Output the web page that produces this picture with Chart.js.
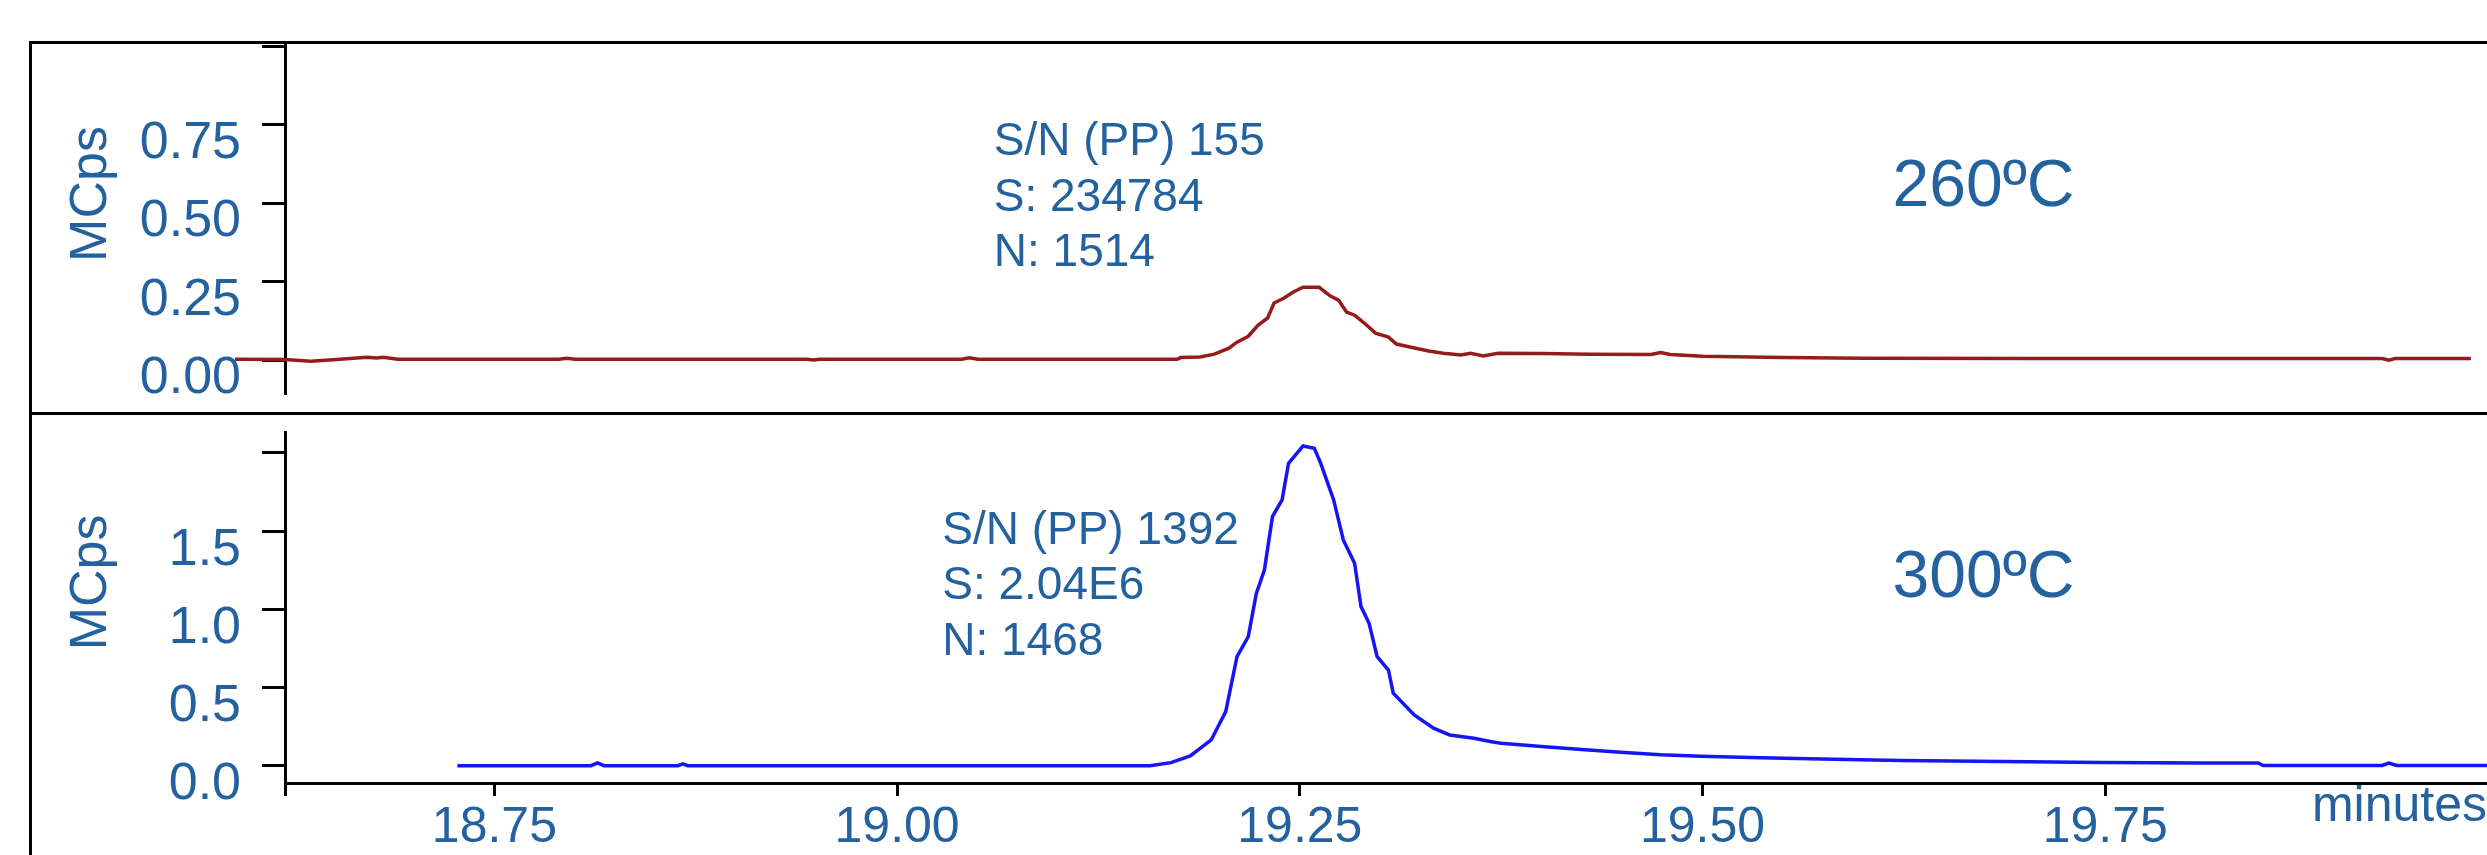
<!DOCTYPE html>
<html>
<head>
<meta charset="utf-8">
<title>Chromatogram 260ºC / 300ºC</title>
<script src="https://cdn.jsdelivr.net/npm/chart.js@4.4.1/dist/chart.umd.min.js"></script>
<style>
  html, body { margin: 0; padding: 0; background: #fff; }
  #page { position: relative; width: 2487px; height: 855px; overflow: hidden; background: #fff; }
  canvas { position: absolute; left: 0; }
  #top { top: 0; }
  #bottom { top: 413px; }
  .rule { position: absolute; background: #000; }
</style>
</head>
<body>
<div id="page">
  <canvas id="top" width="2487" height="413"></canvas>
  <canvas id="bottom" width="2487" height="442"></canvas>
  <div class="rule" style="left:29px;top:41px;width:2458px;height:3px"></div>
  <div class="rule" style="left:29px;top:41px;width:3px;height:814px"></div>
  <div class="rule" style="left:29px;top:412px;width:2458px;height:3px"></div>
</div>
<script>
const textBlue = '#24629f';
const fontFamily = "'Liberation Sans', Arial, Helvetica, sans-serif";

// retention time axis, minutes
const xMin = 18.62;
const xMax = 19.987;
const timeTicks = [18.75, 19.00, 19.25, 19.50, 19.75];

// 260ºC run (MCps)
const time260 = [
    18.589, 18.620, 18.636, 18.652, 18.671, 18.677, 18.681, 18.690, 18.790, 18.795,
    18.800, 18.944, 18.948, 18.952, 19.040, 19.045, 19.050, 19.174, 19.176, 19.188,
    19.197, 19.206, 19.211, 19.218, 19.224, 19.230, 19.234, 19.240, 19.246, 19.252,
    19.262, 19.269, 19.274, 19.279, 19.284, 19.290, 19.297, 19.305, 19.310, 19.319,
    19.330, 19.339, 19.350, 19.356, 19.364, 19.373, 19.400, 19.430, 19.468, 19.474,
    19.480, 19.500, 19.550, 19.600, 19.700, 19.800, 19.922, 19.926, 19.930, 19.977
];
const signal260 = [
    0.003, 0.002, -0.004, 0.002, 0.009, 0.007, 0.009, 0.003, 0.003, 0.006,
    0.003, 0.003, 0.000, 0.003, 0.003, 0.007, 0.003, 0.003, 0.008, 0.010,
    0.019, 0.038, 0.057, 0.076, 0.111, 0.134, 0.182, 0.197, 0.217, 0.232,
    0.232, 0.204, 0.191, 0.153, 0.143, 0.118, 0.086, 0.073, 0.051, 0.041,
    0.029, 0.022, 0.016, 0.022, 0.013, 0.022, 0.021, 0.019, 0.018, 0.024,
    0.018, 0.012, 0.008, 0.006, 0.005, 0.005, 0.005, 0.000, 0.005, 0.005
];
const ticks260 = [0, 0.25, 0.5, 0.75, 1.0];
const tickLabels260 = ['0.00', '0.25', '0.50', '0.75', ''];
const notes260 = ['S/N (PP) 155', 'S: 234784', 'N: 1514'];

// 300ºC run (MCps)
const time300 = [
    18.727, 18.810, 18.814, 18.818, 18.864, 18.867, 18.870, 19.157, 19.170, 19.182,
    19.195, 19.204, 19.211, 19.218, 19.223, 19.228, 19.233, 19.239, 19.243, 19.252,
    19.259, 19.263, 19.271, 19.277, 19.284, 19.288, 19.293, 19.298, 19.305, 19.308,
    19.321, 19.333, 19.343, 19.358, 19.369, 19.375, 19.400, 19.425, 19.449, 19.474,
    19.499, 19.536, 19.574, 19.623, 19.686, 19.748, 19.810, 19.845, 19.848, 19.922,
    19.926, 19.931, 19.987
];
const signal300 = [
    0.002, 0.002, 0.020, 0.002, 0.002, 0.013, 0.002, 0.002, 0.021, 0.064,
    0.166, 0.347, 0.698, 0.826, 1.103, 1.252, 1.593, 1.700, 1.934, 2.045,
    2.030, 1.934, 1.700, 1.444, 1.295, 1.018, 0.912, 0.698, 0.613, 0.465,
    0.326, 0.241, 0.198, 0.177, 0.155, 0.145, 0.125, 0.105, 0.088, 0.072,
    0.062, 0.052, 0.045, 0.035, 0.028, 0.022, 0.019, 0.019, 0.003, 0.003,
    0.018, 0.003, 0.003
];
const ticks300 = [0, 0.5, 1.0, 1.5, 2.0];
const tickLabels300 = ['0.0', '0.5', '1.0', '1.5', ''];
const notes300 = ['S/N (PP) 1392', 'S: 2.04E6', 'N: 1468'];

Chart.defaults.font.family = fontFamily;
Chart.defaults.color = textBlue;

function toPoints(times, values) {
    return times.map(function (t, i) {
        return { x: t, y: values[i] };
    });
}

// peak notes, oven temperature and the rotated unit label
function notesPlugin(cfg) {
    return {
        id: 'notes',
        afterDatasetsDraw: function (chart) {
            const ctx = chart.ctx;
            const xs = chart.scales.x;
            const ys = chart.scales.y;
            ctx.save();
            ctx.fillStyle = textBlue;
            ctx.textBaseline = 'alphabetic';
            ctx.textAlign = 'left';

            ctx.font = '46px ' + fontFamily;
            const nx = xs.getPixelForValue(cfg.noteAt[0]);
            const ny = ys.getPixelForValue(cfg.noteAt[1]);
            for (let i = 0; i < cfg.notes.length; i++) {
                ctx.fillText(cfg.notes[i], nx, ny + i * 55.5);
            }

            ctx.font = '66px ' + fontFamily;
            ctx.fillText(cfg.temp, xs.getPixelForValue(cfg.tempAt[0]), ys.getPixelForValue(cfg.tempAt[1]));

            ctx.font = '52px ' + fontFamily;
            ctx.translate(106, ys.getPixelForValue(cfg.unitAt));
            ctx.rotate(-Math.PI / 2);
            ctx.textAlign = 'center';
            ctx.fillText('MCps', 0, 0);
            ctx.restore();
        }
    };
}

function makeChart(canvasId, cfg) {
    const xScale = {
        type: 'linear',
        bounds: 'data',
        display: cfg.showTime,
        afterDataLimits: function (scale) {
            scale.min = xMin;
            scale.max = xMax;
        },
        afterBuildTicks: function (scale) {
            scale.min = xMin;
            scale.max = xMax;
            scale.ticks = [xMin].concat(timeTicks).map(function (v) { return { value: v }; });
        },
        afterFit: function (scale) {
            scale.paddingLeft = 0;
            scale.paddingRight = 0;
            if (cfg.showTime) {
                scale.height = 72;
            }
        },
        grid: { display: true, drawOnChartArea: false, drawTicks: true, tickLength: 13, tickWidth: 3, tickColor: '#000' },
        border: { display: true, color: '#000', width: 3 },
        ticks: {
            autoSkip: false,
            maxRotation: 0,
            padding: 2,
            color: textBlue,
            font: { size: 50 },
            callback: function (value) {
                return timeTicks.indexOf(value) >= 0 ? value.toFixed(2) : '';
            }
        },
        title: {
            display: cfg.showTime,
            text: 'minutes',
            align: 'end',
            color: textBlue,
            font: { size: 50 },
            padding: { top: 0, bottom: 18 }
        }
    };

    const yScale = {
        type: 'linear',
        bounds: 'data',
        min: cfg.yMin,
        max: cfg.yMax,
        afterBuildTicks: function (scale) {
            scale.min = cfg.yMin;
            scale.max = cfg.yMax;
            scale.ticks = cfg.ticks.map(function (v) { return { value: v }; });
        },
        afterFit: function (scale) {
            scale.width = 285;
            scale.paddingTop = 0;
            scale.paddingBottom = 0;
        },
        grid: { display: true, drawOnChartArea: false, drawTicks: true, tickLength: 23, tickWidth: 3, tickColor: '#000' },
        border: { display: true, color: '#000', width: 3 },
        ticks: {
            padding: 21,
            labelOffset: 19,
            color: textBlue,
            font: { size: 52 },
            callback: function (value, index) {
                return cfg.tickLabels[index];
            }
        }
    };

    return new Chart(document.getElementById(canvasId), {
        type: 'line',
        data: {
            datasets: [{
                data: toPoints(cfg.times, cfg.values),
                borderColor: cfg.color,
                borderWidth: 3.5,
                pointRadius: 0,
                tension: 0,
                fill: false,
                clip: false
            }]
        },
        options: {
            responsive: false,
            animation: false,
            events: [],
            layout: { padding: cfg.padding },
            scales: { x: xScale, y: yScale },
            plugins: {
                legend: { display: false },
                tooltip: { enabled: false }
            }
        },
        plugins: [notesPlugin(cfg)]
    });
}

makeChart('top', {
    times: time260,
    values: signal260,
    color: '#961c1c',
    yMin: -0.108,
    yMax: 1.01,
    ticks: ticks260,
    tickLabels: tickLabels260,
    notes: notes260,
    noteAt: [19.060, 0.653],
    temp: '260ºC',
    tempAt: [19.618, 0.490],
    unitAt: 0.529,
    showTime: false,
    padding: { top: 43, bottom: 19, left: 0, right: 0 }
});

makeChart('bottom', {
    times: time300,
    values: signal300,
    color: '#1515f5',
    yMin: -0.109,
    yMax: 2.134,
    ticks: ticks300,
    tickLabels: tickLabels300,
    notes: notes300,
    noteAt: [19.028, 1.419],
    temp: '300ºC',
    tempAt: [19.618, 1.080],
    unitAt: 1.173,
    showTime: true,
    padding: { top: 19, bottom: 0, left: 0, right: 0 }
});
</script>
</body>
</html>
